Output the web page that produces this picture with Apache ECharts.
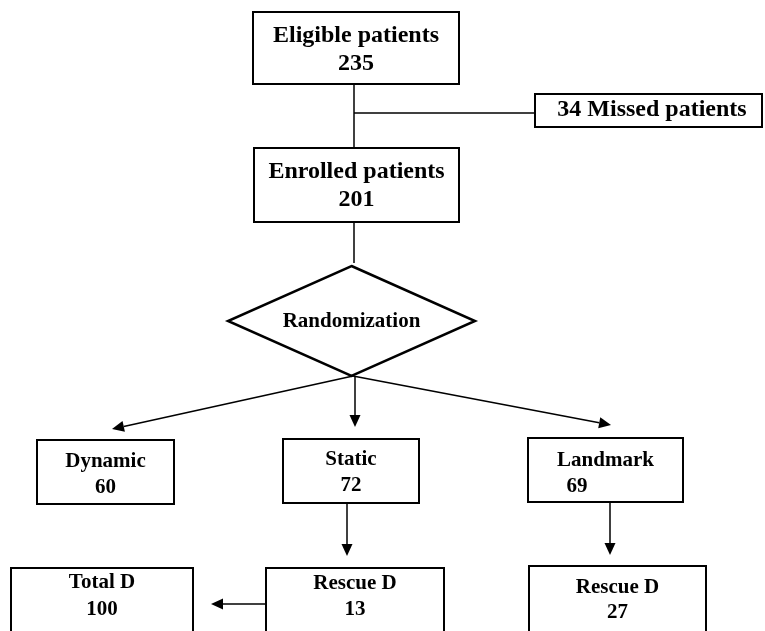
<!DOCTYPE html>
<html><head><meta charset="utf-8">
<script src="https://cdn.jsdelivr.net/npm/echarts@6/dist/echarts.min.js"></script>
<style>html,body{margin:0;padding:0;background:#fff}#c{width:765px;height:631px}</style>
</head><body><div id="c"></div>
<script>
// ---- data ----
const stages = ['Eligible patients','Missed patients','Enrolled patients','Randomization','Dynamic','Static','Landmark','Total D','Rescue D','Rescue D'];
const counts = [235, 34, 201, null, 60, 72, 69, 100, 13, 27];

// ---- layout (axis units = pixels) ----
const nodeBoxes = [
  [253,12,459,84],[535,94,762,127],[254,148,459,222],[228,266,475,376],
  [37,440,174,504],[283,439,419,503],[528,438,683,502],
  [11,568,193,660],[266,568,444,660],[529,566,706,660]
];
const nodeShapes = ['rect','rect','rect','diamond','rect','rect','rect','rect','rect','rect'];
const textRows = [[36,64],[110],[172,200],[322],[462,488],[460,486],[461,487],[583,610],[584,610],[588,613]];
const fontSizes = [24,24,24,21,21,21,21,21,21,21];
const textXs = [null,652,null,null,null,null,null,null,null,null];
const countXs = [null,null,null,null,null,null,577,null,null,null];

const edgePaths = [
  [[354,84],[354,148]],
  [[354,113],[535,113]],
  [[354,222],[354,263]],
  [[353,376],[112,429]],
  [[355,376],[355,427]],
  [[353,376],[611,425]],
  [[347,503],[347,556]],
  [[610,502],[610,555]],
  [[266,604],[211,604]]
];
const edgeArrows = [false,false,false,true,true,true,true,true,true];

const FONT = '"Liberation Serif","Times New Roman",serif';

function renderNode(params, api) {
  const i = params.dataIndex;
  const b = nodeBoxes[i];
  const p1 = api.coord([b[0], b[1]]);
  const p2 = api.coord([b[2], b[3]]);
  const children = [];
  if (nodeShapes[i] === 'diamond') {
    const cx = (p1[0]+p2[0])/2, cy = (p1[1]+p2[1])/2;
    children.push({type:'polygon', shape:{points:[[cx,p1[1]],[p2[0],cy],[cx,p2[1]],[p1[0],cy]]},
      style:{fill:'#fff', stroke:'#000', lineWidth:2.5}});
  } else {
    children.push({type:'rect', shape:{x:p1[0], y:p1[1], width:p2[0]-p1[0], height:p2[1]-p1[1]},
      style:{fill:'#fff', stroke:'#000', lineWidth:2}});
  }
  let cx = (p1[0]+p2[0])/2;
  if (textXs[i] != null) cx = api.coord([textXs[i], 0])[0];
  const rows = textRows[i];
  const font = 'bold ' + fontSizes[i] + 'px ' + FONT;
  let texts;
  if (rows.length === 1) {
    texts = [counts[i] == null ? stages[i] : counts[i] + ' ' + stages[i]];
  } else {
    texts = [stages[i], String(counts[i])];
  }
  texts.forEach(function (t, k) {
    let x = cx;
    if (k === 1 && countXs[i] != null) x = api.coord([countXs[i], 0])[0];
    const y = api.coord([0, rows[k]])[1];
    children.push({type:'text', style:{text:t, x:x, y:y, font:font, fill:'#000', align:'center', verticalAlign:'middle'}});
  });
  return {type:'group', children:children};
}

function renderEdge(params, api) {
  const i = params.dataIndex;
  const pts = edgePaths[i].map(function (p) { return api.coord(p); });
  const a = pts[0], b = pts[1];
  const children = [];
  if (edgeArrows[i]) {
    const dx = b[0]-a[0], dy = b[1]-a[1];
    const len = Math.sqrt(dx*dx+dy*dy);
    const ux = dx/len, uy = dy/len;
    const L = 12, W = 5.5;
    const bx = b[0]-ux*L, by = b[1]-uy*L;
    children.push({type:'line', shape:{x1:a[0], y1:a[1], x2:bx, y2:by}, style:{stroke:'#000', lineWidth:1.5}});
    children.push({type:'polygon', shape:{points:[[b[0],b[1]],[bx-uy*W, by+ux*W],[bx+uy*W, by-ux*W]]}, style:{fill:'#000'}});
  } else {
    children.push({type:'line', shape:{x1:a[0], y1:a[1], x2:b[0], y2:b[1]}, style:{stroke:'#000', lineWidth:1.5}});
  }
  return {type:'group', children:children};
}

const chart = echarts.init(document.getElementById('c'), null, {renderer:'canvas'});
chart.setOption({
  animation: false,
  backgroundColor: '#fff',
  grid: {left:0, right:0, top:0, bottom:0},
  xAxis: {type:'value', min:0, max:765, show:false},
  yAxis: {type:'value', min:0, max:631, inverse:true, show:false},
  series: [
    {type:'custom', coordinateSystem:'cartesian2d', renderItem:renderEdge, clip:false,
     data: edgePaths.map(function (p) { return [p[0][0], p[0][1]]; }), z:1},
    {type:'custom', coordinateSystem:'cartesian2d', renderItem:renderNode, clip:false,
     data: nodeBoxes.map(function (b) { return [b[0], b[1]]; }), z:2}
  ]
});
</script>
</body></html>
